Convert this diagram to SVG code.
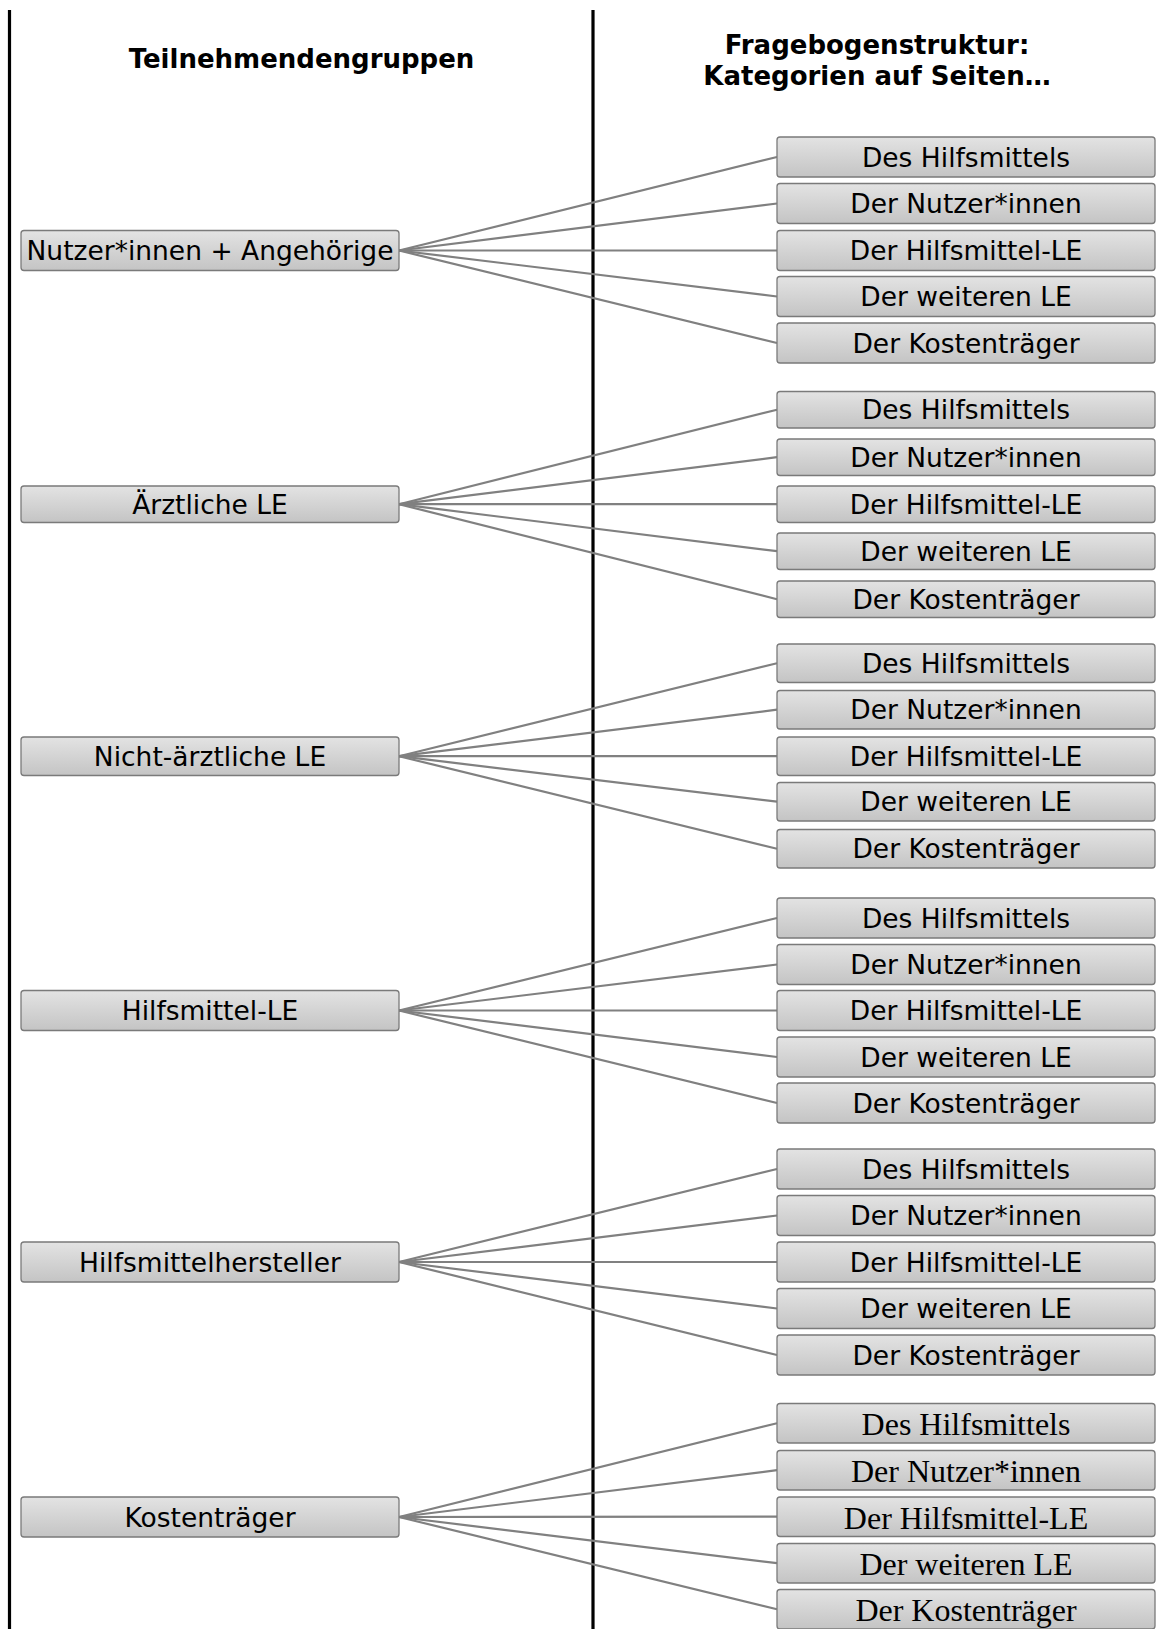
<svg xmlns="http://www.w3.org/2000/svg" width="1166" height="1629" viewBox="0 0 1166 1629">
<defs>
<linearGradient id="bg" x1="0" y1="0" x2="0" y2="1">
<stop offset="0" stop-color="#e3e3e3"/>
<stop offset="1" stop-color="#c4c4c4"/>
</linearGradient>
<style>
.box{fill:url(#bg);stroke:#7a7a7a;stroke-width:1.3}
.t{font-family:"DejaVu Sans",Verdana,sans-serif;font-size:26.5px;fill:#000;text-anchor:middle}
.ts{font-family:"Liberation Serif","Times New Roman",serif;font-size:32px;fill:#000;text-anchor:middle}
.h{font-family:"DejaVu Sans",Verdana,sans-serif;font-size:26px;font-weight:bold;fill:#000;text-anchor:middle}
.c line{stroke:#808080;stroke-width:2.2}
.sep{stroke:#000;stroke-width:3.2}
</style>
</defs>
<rect width="1166" height="1629" fill="#fff"/>
<g id="separators">
<line class="sep" x1="9.5" y1="10" x2="9.5" y2="1629"/>
<line class="sep" x1="593" y1="10" x2="593" y2="1629"/>
</g>
<g id="headers">
<text class="h" x="301.5" y="68.3">Teilnehmendengruppen</text>
<text class="h" x="877" y="53.5">Fragebogenstruktur:</text>
<text class="h" x="877" y="85">Kategorien auf Seiten…</text>
</g>
<g id="connectors" class="c">
<line x1="399" y1="250.5" x2="777" y2="157"/>
<line x1="399" y1="250.5" x2="777" y2="203.5"/>
<line x1="399" y1="250.5" x2="777" y2="250.5"/>
<line x1="399" y1="250.5" x2="777" y2="296.5"/>
<line x1="399" y1="250.5" x2="777" y2="343"/>
<line x1="399" y1="504.2" x2="777" y2="409.7"/>
<line x1="399" y1="504.2" x2="777" y2="457.2"/>
<line x1="399" y1="504.2" x2="777" y2="504.2"/>
<line x1="399" y1="504.2" x2="777" y2="551.2"/>
<line x1="399" y1="504.2" x2="777" y2="599.2"/>
<line x1="399" y1="756.2" x2="777" y2="663.2"/>
<line x1="399" y1="756.2" x2="777" y2="709.7"/>
<line x1="399" y1="756.2" x2="777" y2="756.2"/>
<line x1="399" y1="756.2" x2="777" y2="801.7"/>
<line x1="399" y1="756.2" x2="777" y2="848.7"/>
<line x1="399" y1="1010.5" x2="777" y2="918"/>
<line x1="399" y1="1010.5" x2="777" y2="964.5"/>
<line x1="399" y1="1010.5" x2="777" y2="1010.5"/>
<line x1="399" y1="1010.5" x2="777" y2="1057"/>
<line x1="399" y1="1010.5" x2="777" y2="1103"/>
<line x1="399" y1="1262" x2="777" y2="1169"/>
<line x1="399" y1="1262" x2="777" y2="1215.5"/>
<line x1="399" y1="1262" x2="777" y2="1262"/>
<line x1="399" y1="1262" x2="777" y2="1308.5"/>
<line x1="399" y1="1262" x2="777" y2="1355"/>
<line x1="399" y1="1517" x2="777" y2="1423.2"/>
<line x1="399" y1="1517" x2="777" y2="1470.2"/>
<line x1="399" y1="1517" x2="777" y2="1516.7"/>
<line x1="399" y1="1517" x2="777" y2="1563.2"/>
<line x1="399" y1="1517" x2="777" y2="1609.2"/>
</g>
<g id="g1">
<g id="n1"><rect class="box" x="21" y="230.5" width="378" height="40" rx="3"/><text class="t" x="210" y="260">Nutzer*innen + Angehörige</text></g>
<g id="n1a"><rect class="box" x="777" y="137" width="378" height="40" rx="3"/><text class="t" x="966" y="166.5">Des Hilfsmittels</text></g>
<g id="n1b"><rect class="box" x="777" y="183.5" width="378" height="40" rx="3"/><text class="t" x="966" y="213">Der Nutzer*innen</text></g>
<g id="n1c"><rect class="box" x="777" y="230.5" width="378" height="40" rx="3"/><text class="t" x="966" y="260">Der Hilfsmittel-LE</text></g>
<g id="n1d"><rect class="box" x="777" y="276.5" width="378" height="40" rx="3"/><text class="t" x="966" y="306">Der weiteren LE</text></g>
<g id="n1e"><rect class="box" x="777" y="323" width="378" height="40" rx="3"/><text class="t" x="966" y="352.5">Der Kostenträger</text></g>
</g>
<g id="g2">
<g id="n2"><rect class="box" x="21" y="486" width="378" height="36.5" rx="3"/><text class="t" x="210" y="513.7">Ärztliche LE</text></g>
<g id="n2a"><rect class="box" x="777" y="391.5" width="378" height="36.5" rx="3"/><text class="t" x="966" y="419.2">Des Hilfsmittels</text></g>
<g id="n2b"><rect class="box" x="777" y="439" width="378" height="36.5" rx="3"/><text class="t" x="966" y="466.7">Der Nutzer*innen</text></g>
<g id="n2c"><rect class="box" x="777" y="486" width="378" height="36.5" rx="3"/><text class="t" x="966" y="513.7">Der Hilfsmittel-LE</text></g>
<g id="n2d"><rect class="box" x="777" y="533" width="378" height="36.5" rx="3"/><text class="t" x="966" y="560.7">Der weiteren LE</text></g>
<g id="n2e"><rect class="box" x="777" y="581" width="378" height="36.5" rx="3"/><text class="t" x="966" y="608.7">Der Kostenträger</text></g>
</g>
<g id="g3">
<g id="n3"><rect class="box" x="21" y="737" width="378" height="38.5" rx="3"/><text class="t" x="210" y="765.7">Nicht-ärztliche LE</text></g>
<g id="n3a"><rect class="box" x="777" y="644" width="378" height="38.5" rx="3"/><text class="t" x="966" y="672.7">Des Hilfsmittels</text></g>
<g id="n3b"><rect class="box" x="777" y="690.5" width="378" height="38.5" rx="3"/><text class="t" x="966" y="719.2">Der Nutzer*innen</text></g>
<g id="n3c"><rect class="box" x="777" y="737" width="378" height="38.5" rx="3"/><text class="t" x="966" y="765.7">Der Hilfsmittel-LE</text></g>
<g id="n3d"><rect class="box" x="777" y="782.5" width="378" height="38.5" rx="3"/><text class="t" x="966" y="811.2">Der weiteren LE</text></g>
<g id="n3e"><rect class="box" x="777" y="829.5" width="378" height="38.5" rx="3"/><text class="t" x="966" y="858.2">Der Kostenträger</text></g>
</g>
<g id="g4">
<g id="n4"><rect class="box" x="21" y="990.5" width="378" height="40" rx="3"/><text class="t" x="210" y="1020">Hilfsmittel-LE</text></g>
<g id="n4a"><rect class="box" x="777" y="898" width="378" height="40" rx="3"/><text class="t" x="966" y="927.5">Des Hilfsmittels</text></g>
<g id="n4b"><rect class="box" x="777" y="944.5" width="378" height="40" rx="3"/><text class="t" x="966" y="974">Der Nutzer*innen</text></g>
<g id="n4c"><rect class="box" x="777" y="990.5" width="378" height="40" rx="3"/><text class="t" x="966" y="1020">Der Hilfsmittel-LE</text></g>
<g id="n4d"><rect class="box" x="777" y="1037" width="378" height="40" rx="3"/><text class="t" x="966" y="1066.5">Der weiteren LE</text></g>
<g id="n4e"><rect class="box" x="777" y="1083" width="378" height="40" rx="3"/><text class="t" x="966" y="1112.5">Der Kostenträger</text></g>
</g>
<g id="g5">
<g id="n5"><rect class="box" x="21" y="1242" width="378" height="40" rx="3"/><text class="t" x="210" y="1271.5">Hilfsmittelhersteller</text></g>
<g id="n5a"><rect class="box" x="777" y="1149" width="378" height="40" rx="3"/><text class="t" x="966" y="1178.5">Des Hilfsmittels</text></g>
<g id="n5b"><rect class="box" x="777" y="1195.5" width="378" height="40" rx="3"/><text class="t" x="966" y="1225">Der Nutzer*innen</text></g>
<g id="n5c"><rect class="box" x="777" y="1242" width="378" height="40" rx="3"/><text class="t" x="966" y="1271.5">Der Hilfsmittel-LE</text></g>
<g id="n5d"><rect class="box" x="777" y="1288.5" width="378" height="40" rx="3"/><text class="t" x="966" y="1318">Der weiteren LE</text></g>
<g id="n5e"><rect class="box" x="777" y="1335" width="378" height="40" rx="3"/><text class="t" x="966" y="1364.5">Der Kostenträger</text></g>
</g>
<g id="g6">
<g id="n6"><rect class="box" x="21" y="1497" width="378" height="40" rx="3"/><text class="t" x="210" y="1526.5">Kostenträger</text></g>
<g id="n6a"><rect class="box" x="777" y="1403.5" width="378" height="39.5" rx="3"/><text class="ts" x="966" y="1435">Des Hilfsmittels</text></g>
<g id="n6b"><rect class="box" x="777" y="1450.5" width="378" height="39.5" rx="3"/><text class="ts" x="966" y="1482">Der Nutzer*innen</text></g>
<g id="n6c"><rect class="box" x="777" y="1497" width="378" height="39.5" rx="3"/><text class="ts" x="966" y="1528.5">Der Hilfsmittel-LE</text></g>
<g id="n6d"><rect class="box" x="777" y="1543.5" width="378" height="39.5" rx="3"/><text class="ts" x="966" y="1575">Der weiteren LE</text></g>
<g id="n6e"><rect class="box" x="777" y="1589.5" width="378" height="39.5" rx="3"/><text class="ts" x="966" y="1621">Der Kostenträger</text></g>
</g>
</svg>
